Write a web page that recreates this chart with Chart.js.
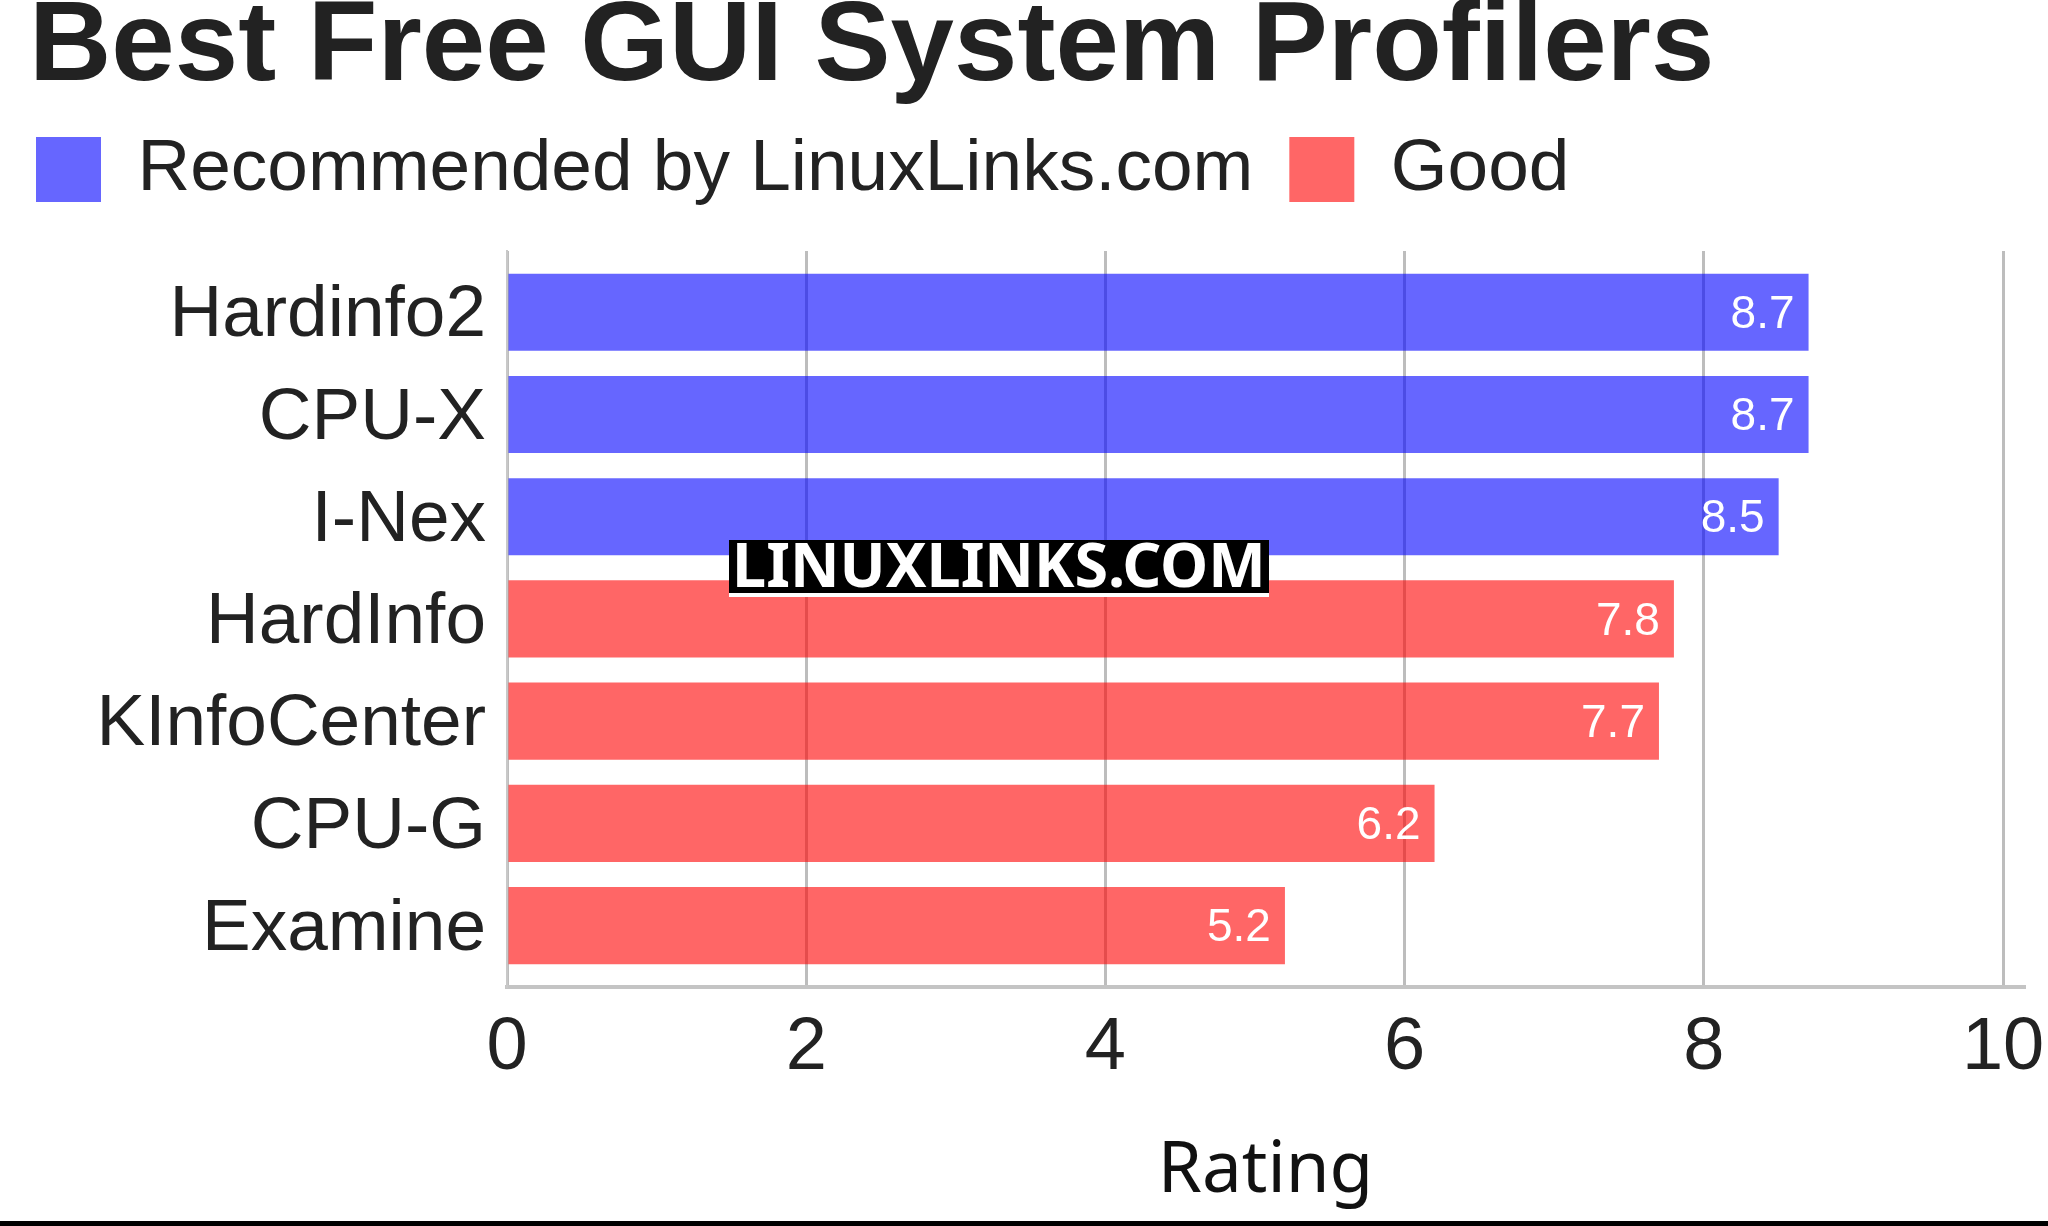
<!DOCTYPE html>
<html>
<head>
<meta charset="utf-8">
<title>Best Free GUI System Profilers</title>
<script src="https://cdn.jsdelivr.net/npm/chart.js@4"></script>
<style>
    body { margin: 0; background: #fff; }
    #wrap { position: relative; width: 2048px; height: 1221px; border-bottom: 5px solid #000; }
</style>
</head>
<body>
<div id="wrap"><canvas id="profilersChart"></canvas></div>
<script>
// Data
const recommendedNames = ['Hardinfo2', 'CPU-X', 'I-Nex'];
const recommendedScores = [8.7, 8.7, 8.5];
const goodNames = ['HardInfo', 'KInfoCenter', 'CPU-G', 'Examine'];
const goodScores = [7.8, 7.7, 6.2, 5.2];
const categories = [...recommendedNames, ...goodNames];
const ratingTicks = [0, 2, 4, 6, 8, 10];

const labelFont = 'Liberation Sans, Arial, sans-serif';
Chart.defaults.font.family = labelFont;
Chart.defaults.color = '#222';

const toPoints = (names, scores) => scores.map((v, i) => ({ x: v, y: categories.indexOf(names[i]) }));

// value labels inside the bar end
const barValues = {
    id: 'barValues',
    afterDatasetsDraw(chart) {
        const ctx = chart.ctx;
        ctx.save();
        ctx.fillStyle = '#fff';
        ctx.font = '46px ' + labelFont;
        ctx.textAlign = 'right';
        ctx.textBaseline = 'middle';
        chart.data.datasets.forEach((ds, di) => {
            chart.getDatasetMeta(di).data.forEach((bar, i) => {
                ctx.fillText(ds.data[i].x.toFixed(1), bar.x - 14, bar.y + 3);
            });
        });
        ctx.restore();
    }
};

// site watermark
const watermark = {
    id: 'watermark',
    afterDraw(chart) {
        const ctx = chart.ctx;
        ctx.save();
        ctx.fillStyle = '#000';
        ctx.fillRect(729, 540, 540, 53);
        ctx.fillStyle = '#fff';
        ctx.fillRect(729, 593, 540, 4);
        ctx.font = 'bold 61px "Noto Sans"';
        ctx.textAlign = 'center';
        ctx.textBaseline = 'alphabetic';
        ctx.fillText('LINUXLINKS.COM', 999, 587);
        ctx.restore();
    }
};

// title sits a bit in from the left edge, legend does not
const titleOffset = {
    id: 'titleOffset',
    afterLayout(chart) {
        chart.titleBlock.left = 29;
    }
};

new Chart(document.getElementById('profilersChart'), {
    type: 'bar',
    data: {
        datasets: [{
            label: 'Recommended by LinuxLinks.com',
            data: toPoints(recommendedNames, recommendedScores),
            backgroundColor: 'rgba(0, 0, 255, 0.6)',
            borderWidth: 0,
            xAxisID: 'x',
            yAxisID: 'y'
        }, {
            label: 'Good',
            data: toPoints(goodNames, goodScores),
            backgroundColor: 'rgba(255, 0, 0, 0.6)',
            borderWidth: 0,
            xAxisID: 'x',
            yAxisID: 'y'
        }]
    },
    options: {
        indexAxis: 'y',
        responsive: true,
        maintainAspectRatio: false,
        animation: false,
        grouped: false,
        categoryPercentage: 1,
        barPercentage: 0.755,
        layout: { padding: { left: 0, right: 24, top: 0, bottom: 0 } },
        plugins: {
            title: {
                display: true,
                text: 'Best Free GUI System Profilers',
                align: 'start',
                color: '#222',
                font: { size: 114, weight: 'bold', lineHeight: 0.78 },
                padding: { top: 4, bottom: 4 }
            },
            legend: {
                position: 'top',
                align: 'start',
                labels: {
                    boxWidth: 65,
                    boxHeight: 65,
                    padding: 36,
                    color: '#222',
                    font: { size: 73 }
                }
            },
            tooltip: { enabled: false }
        },
        scales: {
            x: {
                type: 'linear',
                min: 0,
                max: 10.14,
                afterBuildTicks: s => { s.ticks = ratingTicks.map(v => ({ value: v })); },
                afterFit: s => { s.paddingRight = 0; },
                ticks: { color: '#222', font: { size: 74 }, padding: 17 },
                grid: { color: '#bdbdbd', lineWidth: 3, drawTicks: false },
                border: { color: '#c4c4c4', width: 4 },
                title: {
                    display: true,
                    text: 'Rating',
                    color: '#111',
                    font: { family: 'Noto Sans', size: 71 },
                    padding: { top: 19, bottom: 7 }
                }
            },
            y: {
                type: 'linear',
                reverse: true,
                offset: false,
                min: -0.6,
                max: 6.6,
                afterBuildTicks: s => { s.ticks = categories.map((c, i) => ({ value: i })); },
                afterFit: s => { s.width = 507; },
                ticks: {
                    color: '#222',
                    font: { size: 73 },
                    padding: 21,
                    labelOffset: 4,
                    callback: v => categories[v]
                },
                grid: { display: false, drawTicks: false },
                border: { color: '#c8c8c8', width: 2 }
            },
            gap: {
                type: 'linear',
                position: 'top',
                ticks: { display: false },
                grid: { display: false, drawTicks: false },
                border: { display: false },
                afterFit: s => { s.height = 35; }
            }
        }
    },
    plugins: [barValues, watermark, titleOffset]
});
</script>
</body>
</html>
